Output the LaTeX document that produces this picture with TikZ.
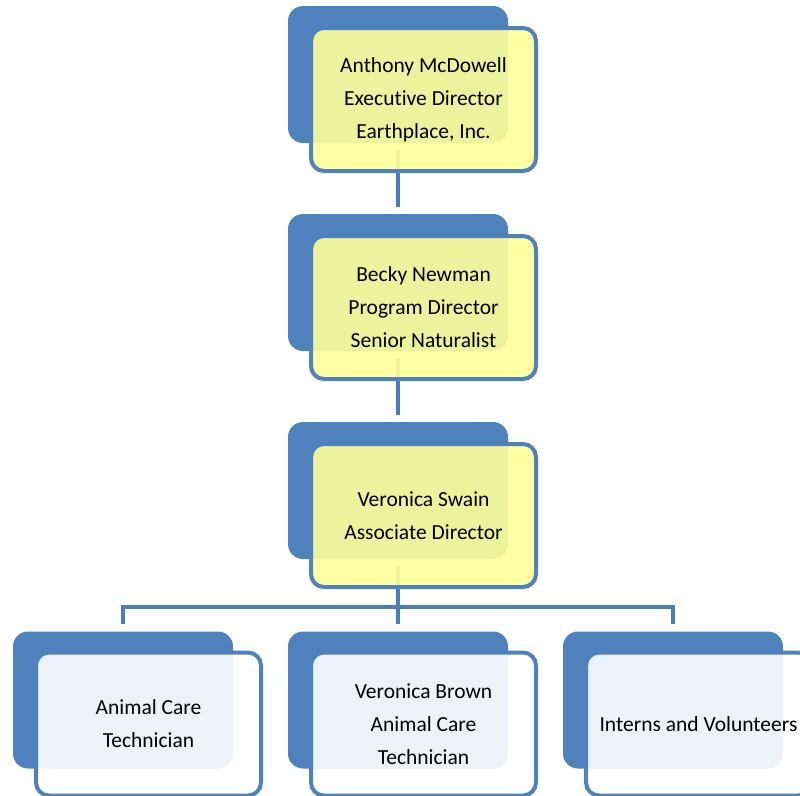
\documentclass[tikz,border=0pt]{standalone}
\usepackage{fontspec}
\setmainfont{Carlito}[Ligatures=NoCommon]
\usetikzlibrary{positioning,calc,backgrounds}

\definecolor{cardblue}{HTML}{4F81BD}
\definecolor{cardyellow}{HTML}{FFFF99}
\definecolor{linkblue}{HTML}{4A7EBB}

\begin{document}
\begin{tikzpicture}[
  x=1pt, y=1pt,
  font=\fontsize{21.5}{33}\selectfont,
  backcard/.style={fill=cardblue, rounded corners=15pt, minimum width=220pt, minimum height=137pt, inner sep=0pt},
  frontcard/.style={draw=cardblue, line width=4pt, rounded corners=13pt, fill opacity=0.9, text opacity=1, minimum width=225pt, minimum height=143pt, align=center, inner sep=0pt},
  leadcard/.style={frontcard, fill=cardyellow},
  staffcard/.style={frontcard, fill=white},
  link/.style={draw=linkblue, line width=4.5pt}
]
\useasboundingbox (0,0) rectangle (800,-795);

% back cards
\node[backcard] (mcdowellback) at (398,-74.5) {};
\node[backcard] (newmanback)   at (398,-282.5) {};
\node[backcard] (swainback)    at (398,-490.5) {};
\node[backcard] (techback)     at (123,-700) {};
\node[backcard] (brownback)    at (398,-700) {};
\node[backcard] (internsback)  at (673,-700) {};

% front cards
\node[leadcard] (mcdowell) at ($(mcdowellback)+(25.5,-25)$) {Anthony McDowell\\Executive Director\\Earthplace, Inc.};
\node[leadcard] (newman)   at ($(newmanback)+(25.5,-25)$) {Becky Newman\\Program Director\\Senior Naturalist};
\node[leadcard] (swain)    at ($(swainback)+(25.5,-25)$) {Veronica Swain\\Associate Director};
\node[staffcard] (tech)    at ($(techback)+(25.5,-24)$) {Animal Care\\Technician};
\node[staffcard] (brown)   at ($(brownback)+(25.5,-24)$) {Veronica Brown\\Animal Care\\Technician};
\node[staffcard] (interns) at ($(internsback)+(25.5,-24)$) {Interns and Volunteers};

\coordinate (bus) at (398,-607);

\begin{scope}[on background layer]
\draw[link, shorten <=7pt, shorten >=7pt] (mcdowellback.south) -- (newmanback.north);
\draw[link, shorten <=7pt, shorten >=7pt] (newmanback.south) -- (swainback.north);
\draw[link, shorten <=7pt] (swainback.south) -- (bus);
\draw[link, shorten >=7pt] (bus) -| (techback.north);
\draw[link, shorten >=7pt] (bus) -- (brownback.north);
\draw[link, shorten >=7pt] (bus) -| (internsback.north);
\end{scope}
\end{tikzpicture}
\end{document}
